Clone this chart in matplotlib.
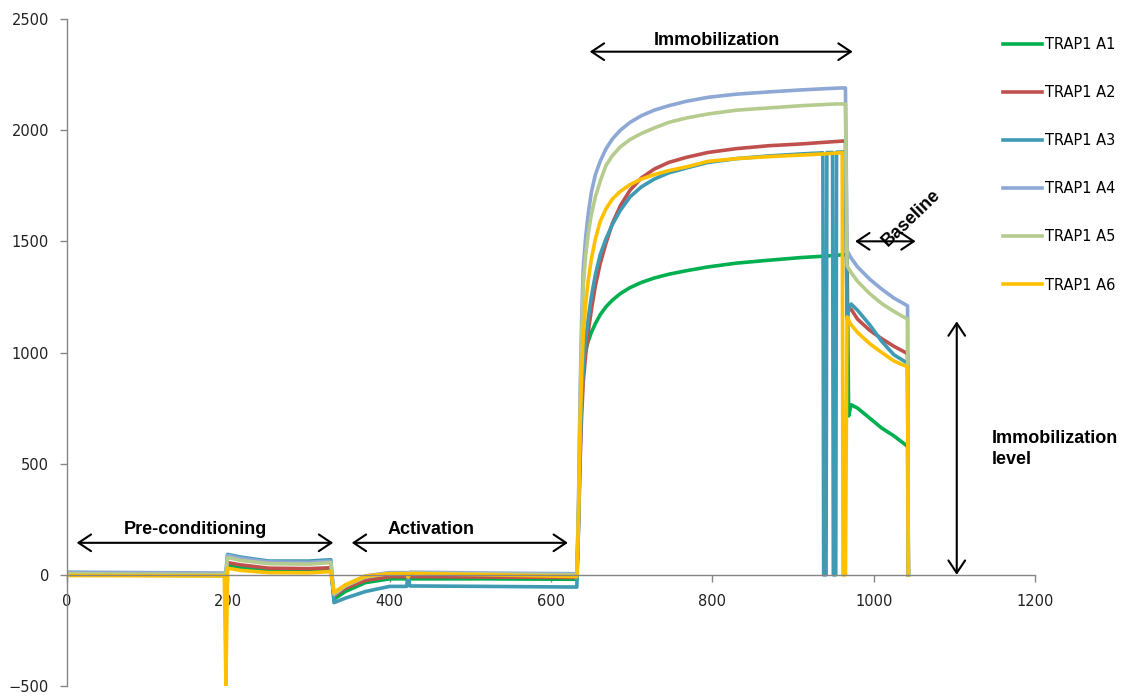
import matplotlib
matplotlib.use("Agg")
import matplotlib.pyplot as plt

# Sensorgram time points (s) shared by all six flow cells:
# pre-conditioning / activation, immobilization, baseline
time_s = [0, 100, 195, 197, 199, 215, 250, 300, 327, 331, 345, 370, 400, 421, 423, 425, 520,
          632, 634, 636, 638, 640, 643, 646, 650, 655, 661, 668, 676, 686, 698, 712, 728, 746,
          768, 795, 830, 870, 910, 937,
          938, 941, 942, 949, 950, 953, 954, 961, 962, 965, 967, 969, 972, 980, 995, 1010,
          1025, 1042, 1043]

# Response (RU) per channel
trap1_a1 = [0, -2, -3, -3, 45, 33, 22, 20, 25, -110, -75, -35, -18, -18, -30, -18, -18,
            -20, 250, 600, 850, 960, 1010, 1050, 1090, 1130, 1170, 1205, 1235, 1265, 1292, 1315,
            1335, 1352, 1368, 1385, 1402, 1415, 1427, 1433,
            1433, 1434, 1434, 1436, 1436, 1437, 1437, 1440, 1440, 1440, 1440, 715, 765, 750, 705,
            660, 625, 578, 0]
trap1_a2 = [2, 0, 0, 0, 55, 45, 30, 28, 32, -95, -60, -25, -8, -8, -20, -8, -10,
            -12, 200, 500, 720, 870, 990, 1090, 1190, 1300, 1400, 1490, 1580, 1660, 1730, 1785,
            1825, 1855, 1878, 1900, 1917, 1930, 1938, 1945,
            1945, 1946, 1946, 1948, 1948, 1949, 1949, 1951, 1951, 1951, 1170, 1190, 1195, 1150,
            1100, 1062, 1028, 995, 0]
trap1_a3 = [10, 8, 5, 5, 92, 80, 62, 62, 68, -125, -105, -75, -52, -52, 0, -50, -52,
            -55, 200, 550, 780, 930, 1060, 1150, 1250, 1350, 1440, 1510, 1575, 1640, 1700, 1745,
            1780, 1808, 1830, 1855, 1872, 1884, 1893, 1898,
            0, 0, 1899, 1900, 0, 0, 1901, 1902, 1902, 1902, 1150, 1200, 1218, 1190, 1125, 1050,
            990, 952, 0]
trap1_a4 = [12, 10, 8, 8, 88, 75, 58, 56, 62, -90, -50, -5, 10, 10, -5, 12, 8,
            5, 300, 800, 1150, 1380, 1520, 1620, 1720, 1800, 1860, 1915, 1960, 2000, 2035, 2065,
            2090, 2110, 2130, 2148, 2162, 2172, 2181, 2186,
            2186, 2187, 2187, 2188, 2188, 2189, 2189, 2190, 2190, 2190, 1460, 1445, 1425, 1385,
            1330, 1285, 1245, 1210, 0]
trap1_a5 = [5, 3, 2, 2, 78, 65, 50, 48, 55, -85, -50, -10, 6, 6, -8, 8, 4,
            0, 280, 750, 1080, 1300, 1440, 1530, 1620, 1700, 1770, 1840, 1885, 1925, 1958, 1985,
            2010, 2035, 2055, 2073, 2090, 2100, 2110, 2115,
            2115, 2116, 2116, 2117, 2117, 2118, 2118, 2118, 2118, 2118, 1390, 1378, 1360, 1320,
            1265, 1220, 1185, 1150, 0]
trap1_a6 = [-3, -4, -5, -500, 30, 20, 10, 9, 15, -80, -45, -5, 5, 5, -10, 6, 0,
            -8, 250, 650, 900, 1080, 1220, 1320, 1420, 1510, 1590, 1645, 1690, 1725, 1755, 1780,
            1800, 1818, 1835, 1860, 1872, 1881, 1888, 1893,
            1893, 1894, 1894, 1896, 1896, 1897, 1897, 1900, 0, 0, 1160, 1145, 1125, 1090, 1040,
            1000, 962, 935, 0]

series_values = [trap1_a1, trap1_a2, trap1_a3, trap1_a4, trap1_a5, trap1_a6]
series_names = ["TRAP1 A1", "TRAP1 A2", "TRAP1 A3", "TRAP1 A4", "TRAP1 A5", "TRAP1 A6"]
series_colors = ["#00B050", "#C0504D", "#3E9BB3", "#8EA8D6", "#B5CC8E", "#FFC000"]

x_ticks = [0, 200, 400, 600, 800, 1000, 1200]
y_ticks = [-500, 0, 500, 1000, 1500, 2000, 2500]

W, H = 1126, 697
fig = plt.figure(figsize=(W / 100, H / 100), dpi=100)
ax = fig.add_axes([67 / W, 1 - 686 / H, 968 / W, 667 / H])

for vals, name, color in zip(series_values, series_names, series_colors):
    ax.plot(time_s, vals, color=color, lw=2.6, label=name)

ax.set_xlim(0, 1200)
ax.set_ylim(-500, 2500)
ax.set_xticks(x_ticks)
ax.set_yticks(y_ticks)

axis_gray = "#868686"
for side in ("top", "right"):
    ax.spines[side].set_visible(False)
ax.spines["bottom"].set_position(("data", 0))
for side in ("left", "bottom"):
    ax.spines[side].set_color(axis_gray)
    ax.spines[side].set_linewidth(1.0)
ax.tick_params(axis="both", direction="out", length=5, width=1.0, color=axis_gray,
               labelsize=10.5, labelcolor="#222222")
ax.tick_params(axis="x", pad=9)
ax.tick_params(axis="y", pad=8)

# Legend on the right
fig.legend(loc="upper left", bbox_to_anchor=(1003 / W, 1 - 37 / H), frameon=False,
           fontsize=10.5, borderpad=0, borderaxespad=0, handlelength=2.67,
           handletextpad=0.2, labelspacing=2.27)

# Phase annotations
bold = dict(family="Liberation Sans", weight="bold", fontsize=13, color="black")
arrow = dict(arrowstyle="<->,head_length=0.45,head_width=0.3", lw=1.5, color="black",
             shrinkA=0, shrinkB=0, mutation_scale=20)

ax.annotate("", xy=(12, 144), xytext=(330, 144), arrowprops=arrow)
ax.text(159, 184, "Pre-conditioning", ha="center", va="baseline", **bold)

ax.annotate("", xy=(353, 144), xytext=(621, 144), arrowprops=arrow)
ax.text(451, 184, "Activation", ha="center", va="baseline", **bold)

ax.annotate("", xy=(648, 2353), xytext=(974, 2353), arrowprops=arrow)
ax.text(806, 2383, "Immobilization", ha="center", va="baseline", **bold)

ax.annotate("", xy=(977, 1500), xytext=(1052, 1500), arrowprops=arrow)
ax.text(1046, 1605, "Baseline", ha="center", va="center", rotation=44, **bold)

ax.annotate("", xy=(1103, 0), xytext=(1103, 1140), arrowprops=arrow)
ax.text(1146, 594, "Immobilization", ha="left", va="baseline", **bold)
ax.text(1146, 500, "level", ha="left", va="baseline", **bold)

fig.savefig("out.png", dpi=100)
